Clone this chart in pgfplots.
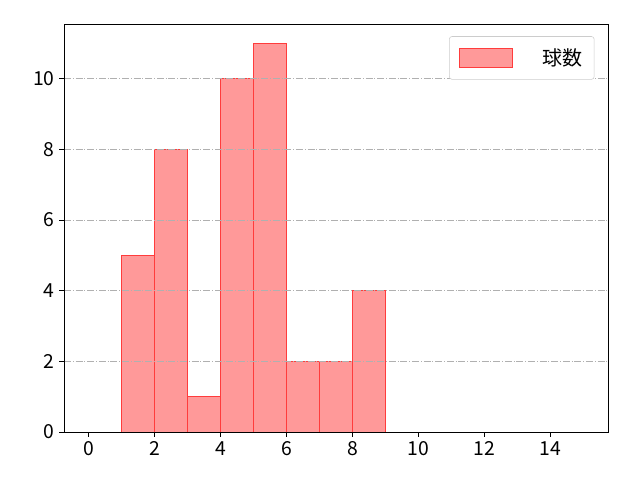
\documentclass[border=0pt]{standalone}
\usepackage{fontspec}
\setmainfont{Noto Sans CJK JP}
\usepackage{pgfplots}
\pgfplotsset{compat=1.18}
\definecolor{barfill}{RGB}{255,153,153}
\definecolor{baredge}{RGB}{255,60,60}
\definecolor{gridgray}{RGB}{176,176,176}
\begin{document}
\begin{tikzpicture}
\path (-48pt,-36pt) rectangle (432pt,324pt);
\begin{axis}[
  at={(0,0)}, anchor=south west,
  scale only axis,
  width=408pt, height=306pt,
  xmin=-0.75, xmax=15.75,
  ymin=0, ymax=11.55,
  xtick={0,2,...,14},
  ytick={0,2,...,10},
  tick align=outside,
  major tick length=3.6pt,
  tick style={black, line width=0.6pt},
  xtick pos=bottom, ytick pos=left,
  axis line style={line width=0.6pt},
  ymajorgrids,
  grid style={gridgray, line width=0.6pt, dash pattern=on 5.3pt off 1.3pt on 0.8pt off 1.3pt},
  axis on top,
  tick label style={font=\fontsize{14.5}{16}\selectfont},
  /pgf/number format/assume math mode=true,
  legend style={at={(0.975,0.97)}, anchor=north east, draw=gray!40, rounded corners=2pt,
    font=\fontsize{15}{17}\selectfont, inner xsep=7pt, inner ysep=7pt,
    cells={anchor=west}},
  legend image code/.code={\draw[#1, sharp corners] (0pt,-7pt) rectangle (40pt,7pt);},
]
\addplot[ybar interval, fill=barfill, draw=baredge, line width=0.6pt]
  coordinates {(1,5) (2,8) (3,1) (4,10) (5,11) (6,2) (7,2) (8,4) (9,4)};
\addlegendentry{\hspace{20pt}球数}
\end{axis}
\end{tikzpicture}
\end{document}
